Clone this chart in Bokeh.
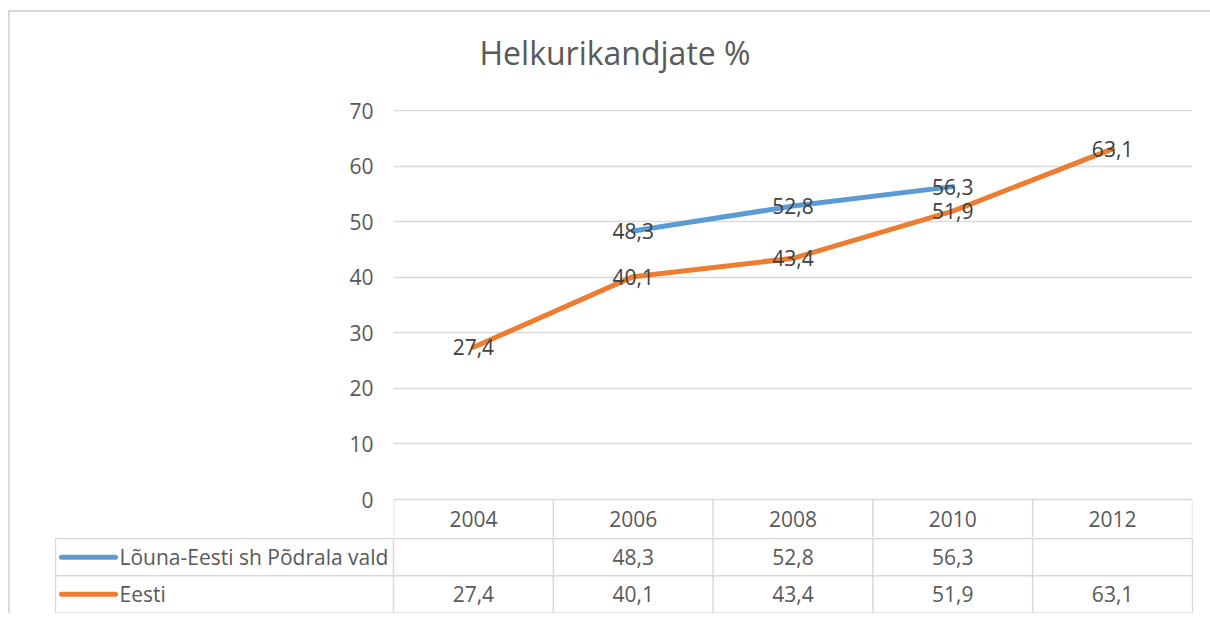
from bokeh.plotting import figure
from bokeh.models import Range1d, FixedTicker, ColumnDataSource, Title
from bokeh.layouts import column
from bokeh.embed import file_html
from bokeh.resources import INLINE
from bokeh.core.properties import value

# ---------------- data ----------------
title_text = "Helkurikandjate %"
years = ["2004", "2006", "2008", "2010", "2012"]
series_names = ["Lõuna-Eesti sh Põdrala vald", "Eesti"]
louna = [None, 48.3, 52.8, 56.3, None]
eesti = [27.4, 40.1, 43.4, 51.9, 63.1]
y_ticks = [0, 10, 20, 30, 40, 50, 60, 70]
colors = ["#5b9bd5", "#ed7d31"]

FONT = "Open Sans"
GRID = "#d9d9d9"
TXT = "#595959"
LBL = "#404040"
FS = "21px"


def fmt(v):
    return "" if v is None else ("%.1f" % v).replace(".", ",")


n = len(years)
centers = [i + 0.5 for i in range(n)]
bounds = list(range(n + 1))

# pixel layout (page coordinates)
OX, OY = 10, 12             # content origin (inside the outer border)
X0, X1 = 393, 1192          # plot area left / right
Y70, Y0 = 110, 499          # y of 70 and 0
HDR_B = 537                 # bottom of header row
TBL_B = 612                 # bottom of data table
RIGHT = 1210
PXY = (Y0 - Y70) / 70.0
PX = (X1 - X0) / float(n)

# ---------------- chart figure ----------------
W = RIGHT - OX
p = figure(width=W, height=HDR_B - OY, output_backend="svg", toolbar_location=None,
           title=None,
           x_range=Range1d(0, n),
           y_range=Range1d(-(HDR_B - Y0) / PXY, 70 + 1 / PXY),
           min_border_left=X0 - OX, min_border_right=RIGHT - X1,
           min_border_top=Y70 - 1 - OY, min_border_bottom=0,
           outline_line_color=None, frame_align=False,
           background_fill_color="white", border_fill_color="white")

# spacer between title and plot area, then the title itself
p.add_layout(Title(text=" ", text_font_size="1px", standoff=33), "above")
p.add_layout(Title(text=title_text, text_font=FONT, text_font_size="32px",
                   text_font_style="normal", text_color=TXT, align="left",
                   offset=86, standoff=0), "above")

p.xaxis.visible = False
p.yaxis.ticker = FixedTicker(ticks=y_ticks)
p.yaxis.axis_line_color = None
p.yaxis.major_tick_line_color = None
p.yaxis.minor_tick_line_color = None
p.yaxis.major_tick_out = 0
p.yaxis.major_tick_in = 0
p.yaxis.major_label_standoff = 20
p.yaxis.major_label_text_font = FONT
p.yaxis.major_label_text_font_size = FS
p.yaxis.major_label_text_color = TXT

p.xgrid.visible = False
p.ygrid.grid_line_color = GRID
p.ygrid.grid_line_width = 1.5

# header row of the data table (years)
hdr_mid = -(HDR_B - Y0) / PXY / 2
hdr_bot = -(HDR_B - Y0) / PXY
p.segment(x0=bounds, x1=bounds, y0=[0] * len(bounds), y1=[hdr_bot] * len(bounds),
          line_color=GRID, line_width=1.5)
p.text(x=centers, y=[hdr_mid] * n, text=years, text_font=value(FONT),
       text_font_size=FS, text_color=TXT, text_align="center",
       text_baseline="middle")

src = ColumnDataSource(dict(
    x=centers,
    louna=[float("nan") if v is None else v for v in louna],
    eesti=eesti,
))
p.line("x", "louna", source=src, line_color=colors[0], line_width=5,
       line_cap="round", line_join="round")
p.line("x", "eesti", source=src, line_color=colors[1], line_width=5,
       line_cap="round", line_join="round")

lx = [c for c, v in zip(centers, louna) if v is not None]
ly = [v for v in louna if v is not None]
p.text(x=lx, y=ly, text=[fmt(v) for v in ly], text_font=value(FONT),
       text_font_size=FS, text_color=LBL, text_align="center",
       text_baseline="middle")
p.text(x=centers, y=eesti, text=[fmt(v) for v in eesti], text_font=value(FONT),
       text_font_size=FS, text_color=LBL, text_align="center",
       text_baseline="middle")

# ---------------- data table figure ----------------
LEG_L = 55
rows_px = (TBL_B - HDR_B - 1) / 2.0
t = figure(width=W, height=TBL_B + 1 - HDR_B, output_backend="svg",
           toolbar_location=None,
           x_range=Range1d(-(X0 - LEG_L + 1) / PX, n + 1 / PX),
           y_range=Range1d(-0.5 / rows_px, 2 + 1 / rows_px),
           min_border_left=LEG_L - 1 - OX, min_border_right=RIGHT - X1 - 1,
           min_border_top=0, min_border_bottom=0, outline_line_color=None,
           frame_align=False,
           background_fill_color="white", border_fill_color="white")
t.axis.visible = False
t.grid.visible = False

leg_left = -(X0 - LEG_L) / PX
t.segment(x0=[leg_left] * 3, x1=[n] * 3, y0=[0, 1, 2], y1=[0, 1, 2],
          line_color=GRID, line_width=1.5)
vx = [leg_left] + bounds
t.segment(x0=vx, x1=vx, y0=[0] * len(vx), y1=[2] * len(vx),
          line_color=GRID, line_width=1.5)

row_y = [1.5, 0.5]
t.segment(x0=[(61 - X0) / PX] * 2, x1=[(115 - X0) / PX] * 2, y0=row_y, y1=row_y,
          line_color=colors, line_width=5, line_cap="round")
t.text(x=[(119 - X0) / PX] * 2, y=row_y, text=series_names, text_font=value(FONT),
       text_font_size=FS, text_color=TXT, text_align="left",
       text_baseline="middle")
for vals, ry in zip([louna, eesti], row_y):
    t.text(x=centers, y=[ry] * n, text=[fmt(v) for v in vals], text_font=value(FONT),
           text_font_size=FS, text_color=TXT, text_align="center",
           text_baseline="middle")

layout = column(p, t, styles={"border-left": "2px solid #d9d9d9",
                              "border-top": "2px solid #d9d9d9",
                              "margin-left": "8px", "margin-top": "10px"})

open("out.html", "w").write(file_html(layout, INLINE))
